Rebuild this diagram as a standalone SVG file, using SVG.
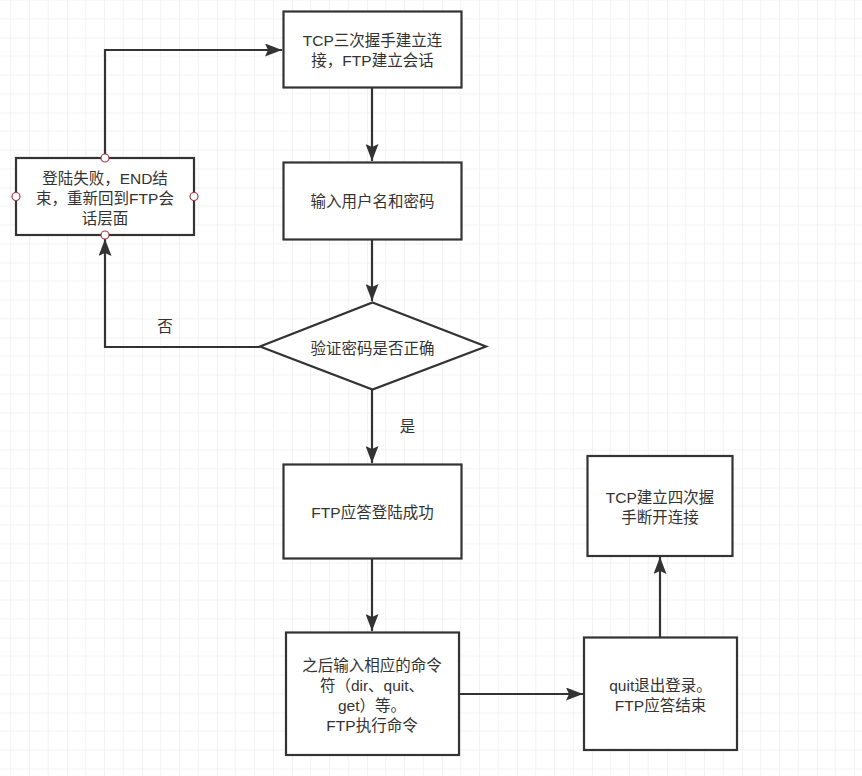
<svg xmlns="http://www.w3.org/2000/svg" width="862" height="776" viewBox="0 0 862 776">
<style>
.box{fill:#fff;stroke:#333;stroke-width:2.2}
.lbl{font-family:"Liberation Sans","Noto Sans CJK SC",sans-serif;font-size:15.5px;fill:#333;text-anchor:middle;dominant-baseline:central}
.edge{fill:none;stroke:#333;stroke-width:2.2}
.pt{fill:#fff;stroke:#a33a45;stroke-width:1.2}
</style>
<defs>
<pattern id="grid" width="75" height="75" x="-8" y="-37.5" patternUnits="userSpaceOnUse">
<path d="M18.75 0V75M37.5 0V75M56.25 0V75M0 18.75H75M0 37.5H75M0 56.25H75" stroke="#f2f2f2" stroke-width="1" fill="none"/>
<path d="M0 0V75M0 0H75" stroke="#e6e6e6" stroke-width="1" fill="none"/>
</pattern>
<marker id="arr" markerWidth="18" markerHeight="13" refX="17" refY="6.5" orient="auto" markerUnits="userSpaceOnUse">
<path d="M0,0 L17,6.5 L0,13 L3,6.5 Z" fill="#333"/>
</marker>
</defs>
<rect width="862" height="776" fill="#fff"/>
<rect width="862" height="776" fill="url(#grid)"/>

<g id="connectors">
<path class="edge" d="M372 88V161" marker-end="url(#arr)"/>
<path class="edge" d="M372 240V301" marker-end="url(#arr)"/>
<path class="edge" d="M372 390V463" marker-end="url(#arr)"/>
<path class="edge" d="M372 559V631" marker-end="url(#arr)"/>
<path class="edge" d="M260 347H105V239" marker-end="url(#arr)"/>
<path class="edge" d="M105 154V50H282" marker-end="url(#arr)"/>
<path class="edge" d="M459 694H583" marker-end="url(#arr)"/>
<path class="edge" d="M660 637V557" marker-end="url(#arr)"/>
<text class="lbl" x="165" y="326">否</text>
<text class="lbl" x="407.5" y="426">是</text>
</g>

<g id="n1">
<rect class="box" x="283.5" y="11.5" width="178" height="76"/>
<text class="lbl" x="372.5" y="40">TCP三次握手建立连</text>
<text class="lbl" x="372.5" y="60">接，FTP建立会话</text>
</g>
<g id="n2">
<rect class="box" x="283.5" y="162.5" width="178" height="77"/>
<text class="lbl" x="372.5" y="201">输入用户名和密码</text>
</g>
<g id="n3">
<path class="box" d="M372.5 302.5L486 346.5L372.5 389.5L260 346.5Z"/>
<text class="lbl" x="372.5" y="348">验证密码是否正确</text>
</g>
<g id="n4">
<rect class="box" x="16" y="158" width="178" height="77"/>
<text class="lbl" x="105" y="178.5">登陆失败，END结</text>
<text class="lbl" x="105" y="198.5">束，重新回到FTP会</text>
<text class="lbl" x="105" y="218.5">话层面</text>
<circle class="pt" cx="105" cy="158" r="4"/>
<circle class="pt" cx="16" cy="196.5" r="4"/>
<circle class="pt" cx="194" cy="196.5" r="4"/>
<circle class="pt" cx="105" cy="235" r="4"/>
</g>
<g id="n5">
<rect class="box" x="283.5" y="464.5" width="178" height="94"/>
<text class="lbl" x="372.5" y="512">FTP应答登陆成功</text>
</g>
<g id="n6">
<rect class="box" x="286" y="632.5" width="173" height="122.5"/>
<text class="lbl" x="372" y="665">之后输入相应的命令</text>
<text class="lbl" x="372" y="685">符（dir、quit、</text>
<text class="lbl" x="372" y="705">get）等。</text>
<text class="lbl" x="372" y="725">FTP执行命令</text>
</g>
<g id="n7">
<rect class="box" x="584" y="637.5" width="153" height="112.5"/>
<text class="lbl" x="660.5" y="685">quit退出登录。</text>
<text class="lbl" x="660.5" y="705">FTP应答结束</text>
</g>
<g id="n8">
<rect class="box" x="587.5" y="456" width="145" height="100"/>
<text class="lbl" x="660" y="497">TCP建立四次握</text>
<text class="lbl" x="660" y="517">手断开连接</text>
</g>
</svg>
